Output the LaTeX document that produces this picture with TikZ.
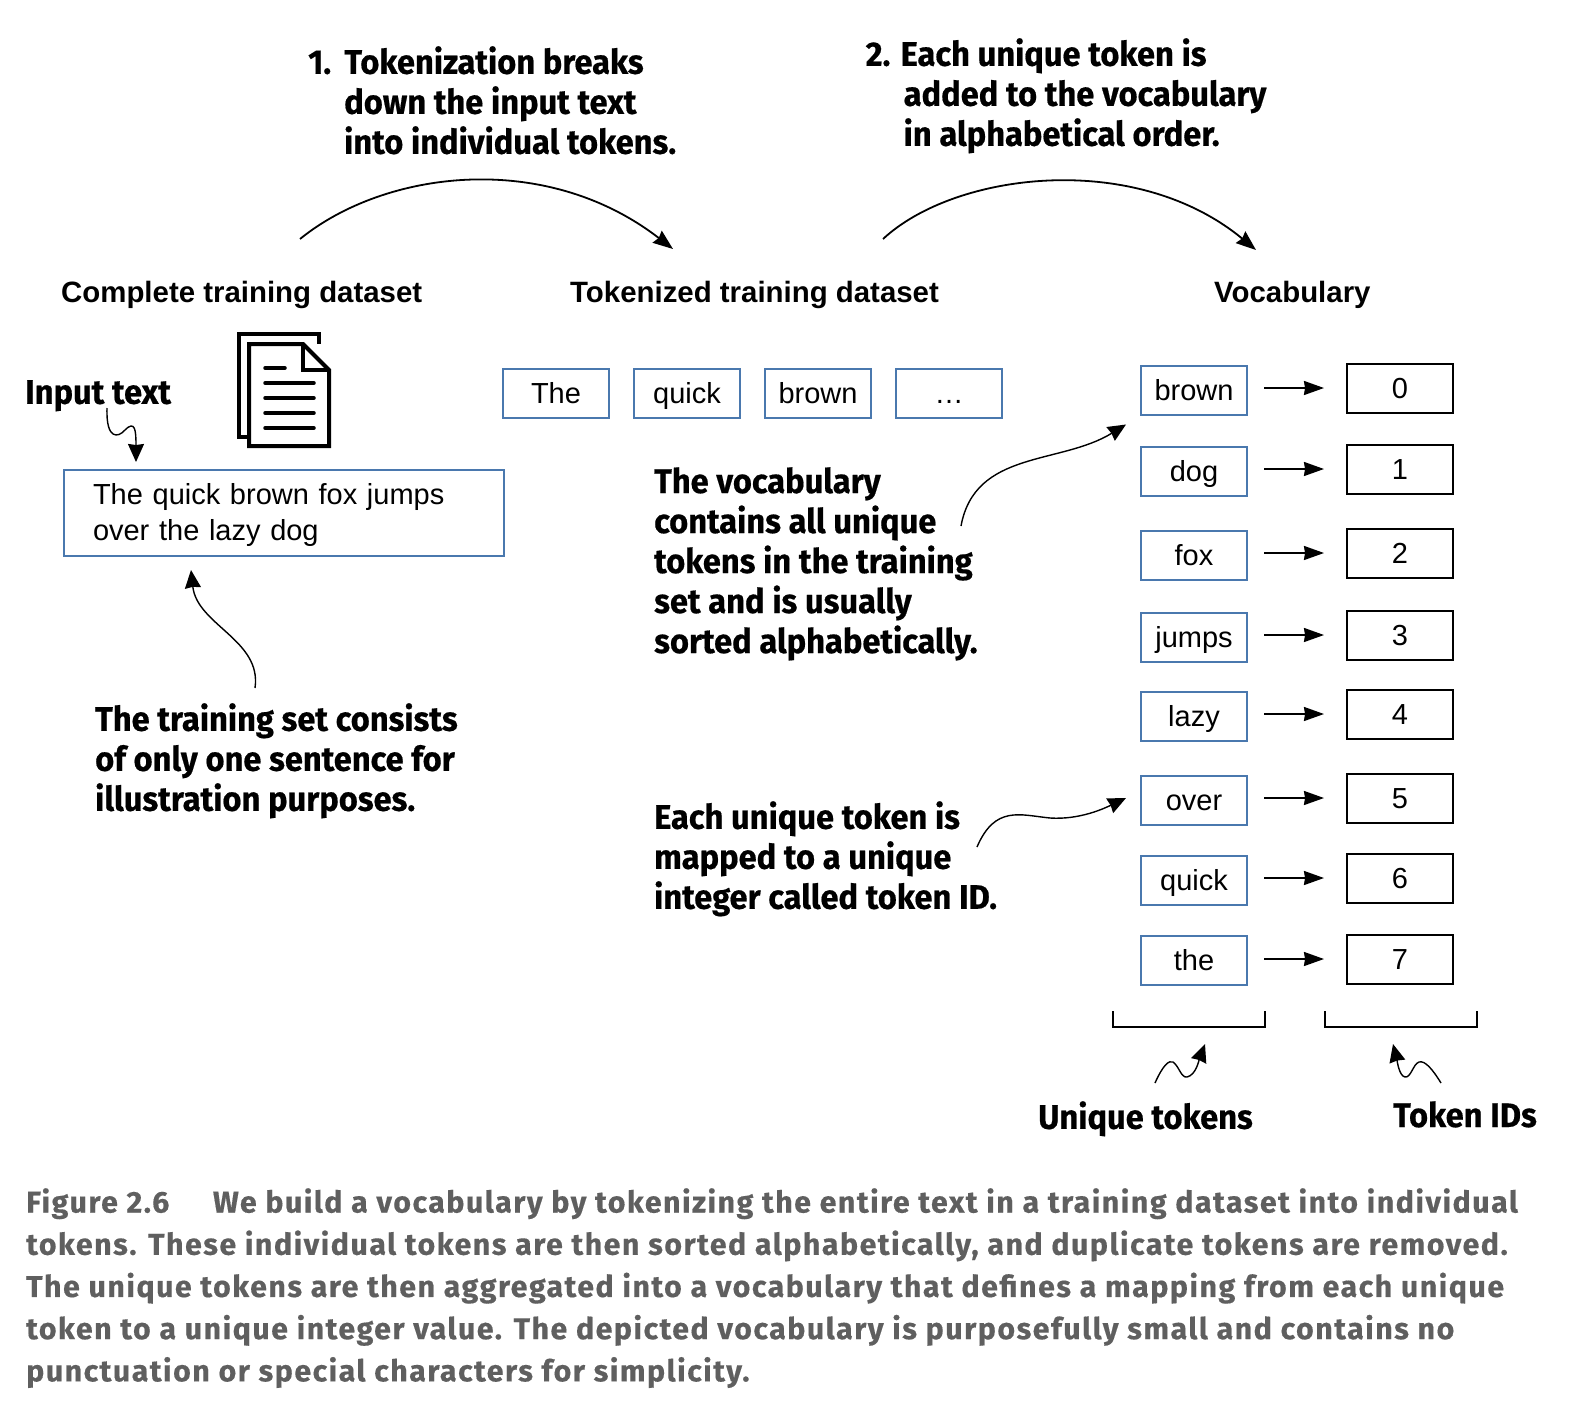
\documentclass[tikz,border=0pt]{standalone}
\usepackage{fontspec}
\usetikzlibrary{arrows.meta, positioning}
\setmainfont{Liberation Sans}
\newfontfamily\notefont[FakeStretch=0.96, BoldFeatures={FakeBold=0.5}]{Fira Sans}
\newfontfamily\capfont[FakeStretch=1.013, LetterSpace=4.9, BoldFeatures={FakeBold=0.4}]{Fira Sans}
\definecolor{boxblue}{HTML}{4A78AE}
\definecolor{capgray}{HTML}{5F5F5F}
\tikzset{
  note/.style = {anchor = north west, align = left, inner sep = 0, font = \notefont\bfseries\fontsize{34}{40}\selectfont},
  heading/.style = {anchor = base west, inner sep = 0, font = \bfseries\fontsize{29.4}{36}\selectfont},
  word/.style = {draw = boxblue, line width = 2pt, minimum width = 106pt, minimum height = 49pt, inner sep = 0, text height = 22pt, text depth = 1pt, font = \fontsize{29}{36}\selectfont},
  idbox/.style = {word, draw = black},
  maparrow/.style = {-{Stealth[length = 20pt, width = 14pt, inset = 1pt]}, line width = 1.8pt, shorten < = 16pt, shorten > = 22pt},
  curl/.style = {-{Stealth[length = 18pt, width = 16pt, inset = 1pt]}, line width = 1.4pt},
  arc/.style = {-{Stealth[length = 20pt, width = 15pt, inset = 2pt]}, line width = 1.8pt}
}
\begin{document}
\begin{tikzpicture}[x = 1pt, y = -1pt]
\useasboundingbox (0,0) rectangle (1570,1408);
\node[note] (step1) at (308,46) {1.\hspace{3pt} Tokenization breaks\\\hspace{36pt}down the input text\\\hspace{36pt}into individual tokens.};
\node[note] (step2) at (865.5,38) {2. Each unique token is\\\hspace{38pt}added to the vocabulary\\\hspace{38pt}in alphabetical order.};
\node[heading] (head1) at (61,302) {Complete training dataset};
\node[heading] (head2) at (570,302) {Tokenized training dataset};
\node[heading] (head3) at (1214,302) {Vocabulary};
\node[note] (inlabel) at (25,380) {Input text};
\node[draw = boxblue, line width = 2pt, anchor = north west, align = left, inner sep = 0, text width = 382pt, minimum height = 86pt, inner xsep = 29pt, font = \fontsize{29}{36}\selectfont] (inbox) at (63,469) {\rule{0pt}{26pt}The quick brown fox jumps\\over the lazy dog};
\node[note] (setnote) at (95,703) {The training set consists\\of only one sentence for\\illustration purposes.};
\node[note] (vocnote) at (654,467) {The vocabulary\\contains all unique\\tokens in the training\\set and is usually\\sorted alphabetically.};
\node[note] (idnote) at (654,801) {Each unique token is\\mapped to a unique\\integer called token ID.};
\node[note] (tokens) at (1038,1101) {Unique tokens};
\node[note] (ids) at (1393,1101) {Token IDs};

\node[word] (w0) at (556,393) {The};
\node[word, right = 23pt of w0] (w1) {quick};
\node[word, right = 23pt of w1] (w2) {brown};
\node[word, right = 23pt of w2] (w3) {\dots};

\node[word] (t0) at (1194,390) {brown};
\node[word] (t1) at (1194,471) {dog};
\node[word] (t2) at (1194,555) {fox};
\node[word] (t3) at (1194,637) {jumps};
\node[word] (t4) at (1194,716) {lazy};
\node[word] (t5) at (1194,800) {over};
\node[word] (t6) at (1194,880) {quick};
\node[word] (t7) at (1194,960) {the};
\node[idbox] (n0) at (1400,388) {0};
\node[idbox] (n1) at (1400,469) {1};
\node[idbox] (n2) at (1400,553) {2};
\node[idbox] (n3) at (1400,635) {3};
\node[idbox] (n4) at (1400,714) {4};
\node[idbox] (n5) at (1400,798) {5};
\node[idbox] (n6) at (1400,878) {6};
\node[idbox] (n7) at (1400,959) {7};
\draw[maparrow] (t0.east |- n0.west) -- (n0.west);
\draw[maparrow] (t1.east |- n1.west) -- (n1.west);
\draw[maparrow] (t2.east |- n2.west) -- (n2.west);
\draw[maparrow] (t3.east |- n3.west) -- (n3.west);
\draw[maparrow] (t4.east |- n4.west) -- (n4.west);
\draw[maparrow] (t5.east |- n5.west) -- (n5.west);
\draw[maparrow] (t6.east |- n6.west) -- (n6.west);
\draw[maparrow] (t7.east |- n7.west) -- (n7.west);

\coordinate (from1) at (300,239);
\coordinate (to1) at (673,249);
\coordinate (from2) at (883,239);
\coordinate (to2) at (1256,250);
\draw[arc] (from1) .. controls (385,170) and (545,150) .. (to1);
\draw[arc] (from2) .. controls (955,172) and (1135,150) .. (to2);

\coordinate (infrom) at (107,408);
\coordinate (setfrom) at (255,688);
\coordinate (vocfrom) at (961,526);
\coordinate (idfrom) at (977,847);
\coordinate (tokfrom) at (1155,1083);
\coordinate (tokto) at (1205,1044);
\coordinate (idsfrom) at (1441,1083);
\coordinate (idsto) at (1393,1044);
\draw[curl] (infrom) .. controls (106,440) and (118,438) .. (125,430) .. controls (135,420) and (136,430) .. ([xshift = -148pt, yshift = 7pt]inbox.north);
\draw[curl] (setfrom) .. controls (262,640) and (197,625) .. ([xshift = -93pt, yshift = -13pt]inbox.south);
\draw[curl] (vocfrom) .. controls (975,450) and (1060,465) .. ([xshift = -14pt, yshift = -9pt]t0.south west);
\draw[curl] (idfrom) .. controls (995,805) and (1020,815) .. (1050,818) .. controls (1080,820) and (1105,808) .. ([xshift = -14pt, yshift = 2pt]t5.west);
\draw[curl] (tokfrom) .. controls (1163,1065) and (1169,1060) .. (1173,1062) .. controls (1179,1066) and (1181,1078) .. (1187,1077) .. controls (1196,1075) and (1199,1060) .. (tokto);
\draw[curl] (idsfrom) .. controls (1433,1070) and (1425,1060) .. (1419,1062) .. controls (1413,1064) and (1411,1078) .. (1405,1077) .. controls (1399,1076) and (1397,1060) .. (idsto);

\draw[line width = 2pt] (1113,1011) -- (1113,1027) -- (1265,1027) -- (1265,1011);
\draw[line width = 2pt] (1325,1011) -- (1325,1027) -- (1477,1027) -- (1477,1011);

\draw[line width = 4pt, miter limit = 10] (249,437) -- (239,437) -- (239,334) -- (319,334) -- (319,344);
\draw[line width = 4pt, fill = white, line join = miter] (249,344) -- (303,344) -- (329,370) -- (329,446) -- (249,446) -- cycle;
\draw[line width = 4pt] (303,344) -- (303,370) -- (329,370);
\draw[line width = 3.5pt, line cap = round] (265,368) -- (285,368);
\draw[line width = 3.5pt, line cap = round] (265,383) -- (314,383);
\draw[line width = 3.5pt, line cap = round] (265,398) -- (314,398);
\draw[line width = 3.5pt, line cap = round] (265,413) -- (314,413);
\draw[line width = 3.5pt, line cap = round] (265,428) -- (314,428);

\node[anchor = north west, align = left, inner sep = 0, text = capgray, font = \capfont\bfseries\fontsize{30}{42.2}\selectfont] (caption) at (26,1188) {Figure 2.6\hspace{35pt} We build a vocabulary by tokenizing the entire text in a training dataset into individual\\tokens. These individual tokens are then sorted alphabetically, and duplicate tokens are removed.\\The unique tokens are then aggregated into a vocabulary that defines a mapping from each unique\\token to a unique integer value. The depicted vocabulary is purposefully small and contains no\\punctuation or special characters for simplicity.};
\end{tikzpicture}
\end{document}
